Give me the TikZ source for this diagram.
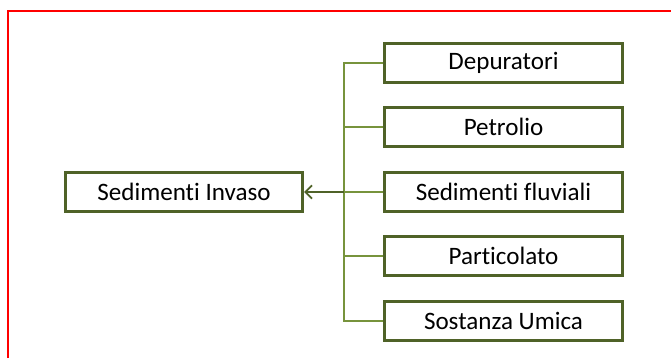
\documentclass[tikz,border=0pt]{standalone}
\usepackage{fontspec}
\setmainfont{Carlito}[Ligatures=NoCommon]
\usetikzlibrary{arrows.meta}
\definecolor{olivedark}{RGB}{79,98,40}
\definecolor{olivelight}{RGB}{119,147,60}
\tikzset{
  box/.style={draw=olivedark, line width=2.2pt, fill=white, minimum width=178pt,
    minimum height=29pt, inner sep=0pt, font=\fontsize{18.8}{22}\selectfont},
  bus/.style={draw=olivelight, line width=1.2pt},
}
\begin{document}
\begin{tikzpicture}[x=0.75pt, y=-0.75pt]
      \useasboundingbox (0,0) rectangle (671,358);
      \draw[red, line width=1.6pt] (8,358) -- (8,11) -- (671,11);
      \draw
        (184,192) node[box] (invaso){Sedimenti Invaso}
        (503.5,63) node[box] (dep){Depuratori}
        (503.5,127) node[box] (pet){Petrolio}
        (503.5,192) node[box] (fluv){Sedimenti fluviali}
        (503.5,256) node[box] (part){Particolato}
        (503.5,321) node[box] (umica){Sostanza Umica};
      \coordinate (bus) at (344,192);
      \begin{scope}[bus]
        \draw (dep) -| (bus);
        \draw (pet) -| (bus);
        \draw (fluv) -| (bus);
        \draw (part) -| (bus);
        \draw (umica) -| (bus);
      \end{scope}
      \draw[olivedark, line width=1.3pt, -{Straight Barb[length=5pt, width=10pt]}] (bus) -- (invaso);
    \end{tikzpicture}
\end{document}
